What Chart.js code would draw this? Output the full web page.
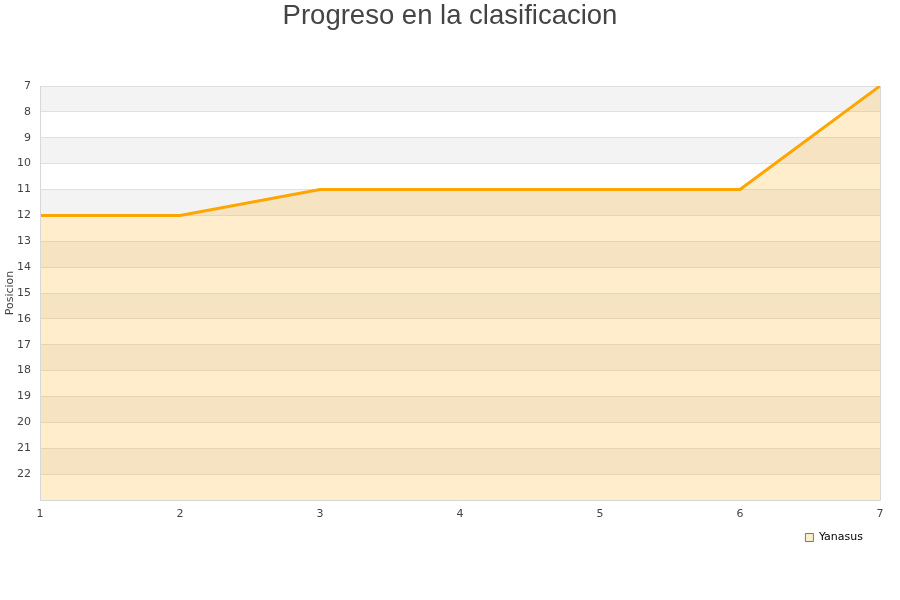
<!DOCTYPE html>
<html><head><meta charset="utf-8">
<script src="https://cdn.jsdelivr.net/npm/chart.js@4"></script>
<style>html,body{margin:0;padding:0;background:#fff}#w{width:900px;height:600px}</style>
</head><body><div id="w"><canvas id="c" width="900" height="600"></canvas></div>
<script>
const jornadas = [1, 2, 3, 4, 5, 6, 7];
const posiciones = [12, 12, 11, 11, 11, 11, 7];
const seriesName = "Yanasus";
const chartTitle = "Progreso en la clasificacion";
const yTitle = "Posicion";

const bands = {
  id: 'bands',
  afterLayout(chart) {
    if (chart.titleBlock) { chart.titleBlock.left = 0; chart.titleBlock.right = 900; }
    if (chart.legend) { chart.legend.right -= 7; }
  },
  beforeDraw(chart) {
    const {ctx, chartArea: a, scales: {y}} = chart;
    ctx.save();
    for (let v = 7; v < 23; v += 2) {
      const p1 = y.getPixelForValue(v), p2 = y.getPixelForValue(v + 1);
      ctx.fillStyle = '#f3f3f3';
      ctx.fillRect(a.left, Math.min(p1, p2), a.right - a.left, Math.abs(p2 - p1));
    }
    ctx.restore();
  },
  afterDatasetsDraw(chart) {
    const {ctx, chartArea: a} = chart;
    ctx.save();
    ctx.strokeStyle = '#d8d8d8';
    ctx.lineWidth = 1;
    ctx.beginPath();
    ctx.moveTo(a.left + 0.5, a.top); ctx.lineTo(a.left + 0.5, a.bottom + 0.5);
    ctx.lineTo(a.right + 0.5, a.bottom + 0.5); ctx.lineTo(a.right + 0.5, a.top);
    ctx.stroke();
    ctx.restore();
  }
};

new Chart(document.getElementById('c'), {
  type: 'line',
  data: {
    datasets: [{
      label: seriesName,
      data: jornadas.map((j, i) => ({x: j, y: posiciones[i]})),
      borderColor: '#ffa500',
      backgroundColor: 'rgba(255,165,0,0.2)',
      borderWidth: 3,
      pointRadius: 0,
      tension: 0,
      fill: {value: 23}
    }]
  },
  options: {
    responsive: false,
    animation: false,
    layout: {padding: {left: 0, right: 20, top: 0, bottom: 47}},
    scales: {
      x: {
        type: 'linear', min: 1, max: 7,
        ticks: {stepSize: 1, padding: 8, color: '#444', font: {family: 'DejaVu Sans', size: 11}},
        grid: {display: false, drawTicks: false},
        border: {display: false},
        afterFit(s) { s.height = 22; }
      },
      y: {
        type: 'linear', min: 7, max: 23, reverse: true,
        ticks: {stepSize: 1, padding: 9, color: '#444', font: {family: 'DejaVu Sans', size: 11},
          callback: v => (v >= 23 ? '' : v)},
        grid: {color: '#e0e0e0', drawTicks: false},
        border: {display: false},
        title: {display: true, text: yTitle, color: '#444', padding: {top: 4, bottom: 0}, font: {family: 'DejaVu Sans', size: 11}},
        afterFit(s) { s.width = 40; }
      }
    },
    plugins: {
      title: {display: true, text: chartTitle, color: '#444',
        font: {family: 'Liberation Sans', size: 27.5, weight: 'normal'},
        padding: {top: 0, bottom: 53}},
      legend: {
        position: 'bottom', align: 'end',
        labels: {
          boxWidth: 8, boxHeight: 8, color: '#222', font: {family: 'DejaVu Sans', size: 11},
          generateLabels: () => [{text: seriesName, fillStyle: '#ffedcc', strokeStyle: '#777', lineWidth: 1, datasetIndex: 0}]
        }
      },
      tooltip: {enabled: false}
    }
  },
  plugins: [bands]
});
</script></body></html>
